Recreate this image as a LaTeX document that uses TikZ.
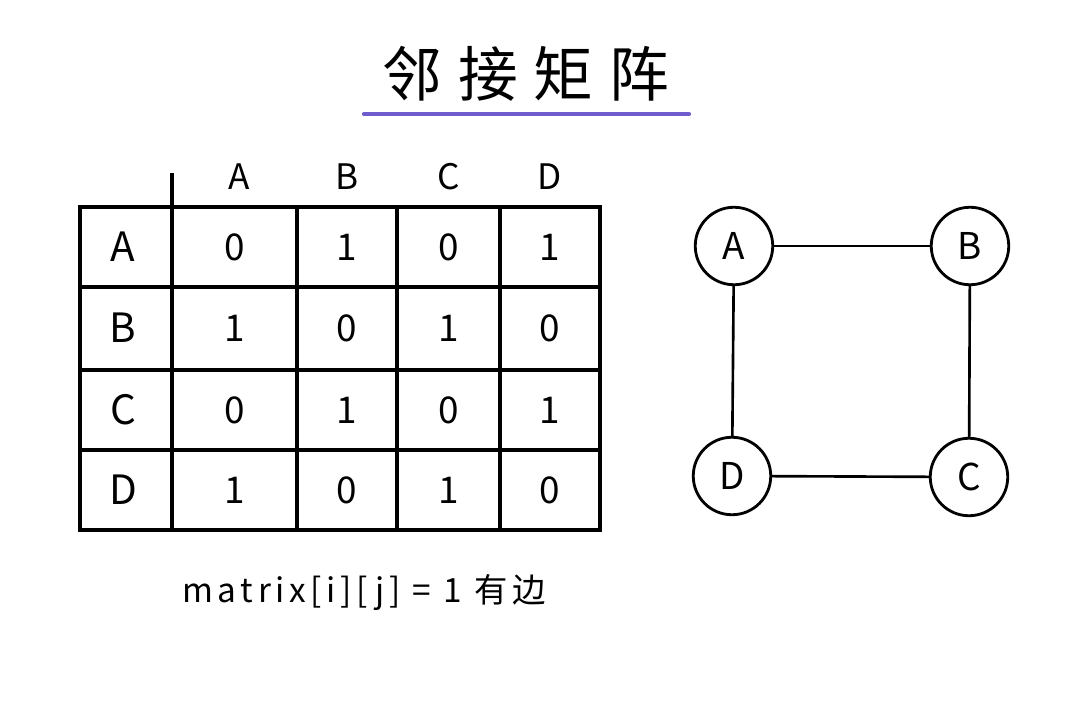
\documentclass[tikz,border=0pt]{standalone}
\usepackage{fontspec}
\setmainfont{Noto Sans CJK SC}
\usepackage{xcolor}
\usepackage{tikz}
\definecolor{titleline}{RGB}{112,92,204}

\begin{document}
\begin{tikzpicture}[x=0.02cm,y=-0.02cm]
\tikzstyle{every node}+=[inner sep=0pt]
\tikzstyle{head}=[font=\fontsize{20}{20}\selectfont]
\tikzstyle{rowlab}=[font=\fontsize{23}{23}\selectfont]
\tikzstyle{cell}=[font=\fontsize{21}{21}\selectfont]
\tikzstyle{vertex}=[draw,circle,line width=1.6pt,minimum size=1.55cm,font=\fontsize{21}{21}\selectfont]
\useasboundingbox (0,0) rectangle (1080,720);
% title
\node (title) at (526,74) {\fontsize{34}{34}\selectfont 邻\hspace{9pt}接\hspace{9pt}矩\hspace{9pt}阵};
\draw [titleline, line width=2.4pt, line cap=round] (364,114) -- (689,114);
% table grid
\draw [black, line width=1.8pt] (80,207) rectangle (600,530);
\draw [black, line width=1.8pt] (172,173) -- (172,530);
\draw [black, line width=1.8pt] (297,207) -- (297,530);
\draw [black, line width=1.8pt] (397,207) -- (397,530);
\draw [black, line width=1.8pt] (500,207) -- (500,530);
\draw [black, line width=1.8pt] (80,287) -- (600,287);
\draw [black, line width=1.8pt] (80,370) -- (600,370);
\draw [black, line width=1.8pt] (80,450) -- (600,450);
% column heads
\node [head] (hA) at (239,177) {A};
\node [head] (hB) at (347,177) {B};
\node [head] (hC) at (449,177) {C};
\node [head] (hD) at (550,177) {D};
% row heads
\node [rowlab] (rA) at (123,247) {A};
\node [rowlab] (rB) at (123,328) {B};
\node [rowlab] (rC) at (123,410) {C};
\node [rowlab] (rD) at (123,490) {D};
% entries
\node [cell] (m11) at (235,247) {0};
\node [cell] (m12) at (347,247) {1};
\node [cell] (m13) at (449,247) {0};
\node [cell] (m14) at (550,247) {1};
\node [cell] (m21) at (235,328) {1};
\node [cell] (m22) at (347,328) {0};
\node [cell] (m23) at (449,328) {1};
\node [cell] (m24) at (550,328) {0};
\node [cell] (m31) at (235,410) {0};
\node [cell] (m32) at (347,410) {1};
\node [cell] (m33) at (449,410) {0};
\node [cell] (m34) at (550,410) {1};
\node [cell] (m41) at (235,490) {1};
\node [cell] (m42) at (347,490) {0};
\node [cell] (m43) at (449,490) {1};
\node [cell] (m44) at (550,490) {0};
% caption
\node (note) at (364,593) {\fontsize{19}{19}\selectfont\addfontfeatures{LetterSpace=14}matrix[i][j] = 1 有边};
% graph
\node [vertex] (A) at (734,246) {A};
\node [vertex] (B) at (970,246) {B};
\node [vertex] (C) at (969,477) {C};
\node [vertex] (D) at (732,476) {D};
\draw [black, line width=1.5pt] (A) -- (B);
\draw [black, line width=1.5pt] (B) -- (C);
\draw [black, line width=1.5pt] (C) -- (D);
\draw [black, line width=1.5pt] (D) -- (A);
\end{tikzpicture}
\end{document}
